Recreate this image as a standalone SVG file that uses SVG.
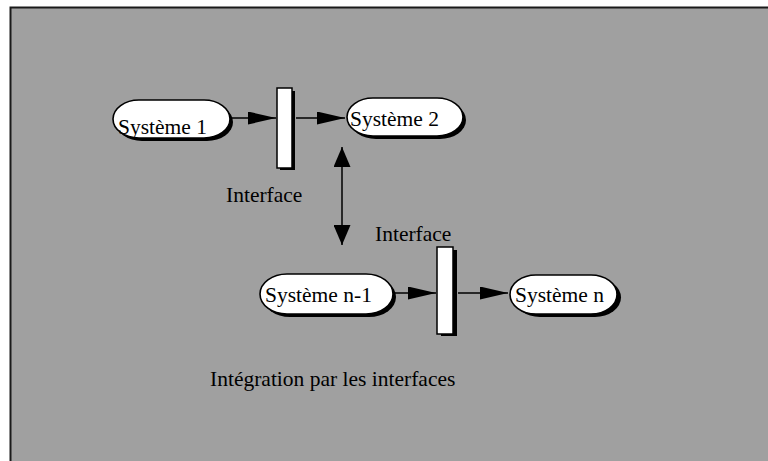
<svg xmlns="http://www.w3.org/2000/svg" width="768" height="461" viewBox="0 0 768 461">
  <defs>
    <style>
      .label { font-family: "Liberation Serif", "Times New Roman", serif; font-size: 21.5px; fill: #000; }
      .pill { fill: #fff; stroke: #000; stroke-width: 1.6; }
      .shadow { fill: #000; }
      .bar { fill: #fff; stroke: #000; stroke-width: 1.5; }
      .link { stroke: #000; stroke-width: 1.5; fill: none; }
    </style>
    <marker id="head" viewBox="0 0 28 13" refX="28" refY="6.5" markerWidth="28" markerHeight="13" markerUnits="userSpaceOnUse" orient="auto-start-reverse">
      <path d="M0,0 L28,6.5 L0,13 Z" fill="#000"/>
    </marker>
    <marker id="vhead" viewBox="0 0 20 17" refX="20" refY="8.5" markerWidth="20" markerHeight="17" markerUnits="userSpaceOnUse" orient="auto-start-reverse">
      <path d="M0,0 L20,8.5 L0,17 Z" fill="#000"/>
    </marker>
  </defs>

  <!-- page background -->
  <rect x="0" y="0" width="768" height="461" fill="#fff"/>
  <rect x="10.5" y="7.5" width="770" height="470" fill="#a0a0a0" stroke="#1a1a1a" stroke-width="2"/>

  <!-- connectors -->
  <g id="connectors">
    <line class="link" x1="231" y1="118" x2="276" y2="118" marker-end="url(#head)"/>
    <line class="link" x1="296" y1="118" x2="345" y2="118" marker-end="url(#head)"/>
    <line class="link" x1="342" y1="147" x2="342" y2="245" marker-start="url(#vhead)" marker-end="url(#vhead)"/>
    <line class="link" x1="394" y1="293" x2="436" y2="293" marker-end="url(#head)"/>
    <line class="link" x1="458" y1="293" x2="508" y2="293" marker-end="url(#head)"/>
  </g>

  <!-- interface 1 -->
  <g id="interface-1">
    <rect class="shadow" x="280" y="91" width="15" height="79"/>
    <rect class="bar" x="277" y="88" width="15" height="80"/>
  </g>
  <text class="label" x="226" y="202">Interface</text>

  <!-- interface 2 -->
  <g id="interface-2">
    <rect class="shadow" x="441" y="250" width="16" height="86"/>
    <rect class="bar" x="437" y="247" width="16" height="87"/>
    <text class="label" x="375" y="241">Interface</text>
  </g>

  <!-- systems -->
  <g id="systeme-1">
    <rect class="shadow" x="116" y="103" width="117" height="38" rx="26" ry="19"/>
    <rect class="pill" x="113" y="100" width="117" height="38" rx="26" ry="19"/>
    <text class="label" x="118" y="134">Système 1</text>
  </g>

  <g id="systeme-2">
    <rect class="shadow" x="350" y="101" width="116" height="38" rx="26" ry="19"/>
    <rect class="pill" x="347" y="98" width="116" height="38" rx="26" ry="19"/>
    <text class="label" x="350" y="126">Système 2</text>
  </g>

  <g id="systeme-n-1">
    <rect class="shadow" x="263" y="277" width="133" height="40" rx="27" ry="20"/>
    <rect class="pill" x="260" y="274" width="133" height="40" rx="27" ry="20"/>
    <text class="label" x="265" y="302">Système n-1</text>
  </g>

  <g id="systeme-n">
    <rect class="shadow" x="514" y="278" width="107" height="39" rx="26" ry="19.5"/>
    <rect class="pill" x="510" y="275" width="107" height="39" rx="26" ry="19.5"/>
    <text class="label" x="515" y="302">Système n</text>
  </g>

  <text class="label" x="210" y="386">Intégration par les interfaces</text>
</svg>
